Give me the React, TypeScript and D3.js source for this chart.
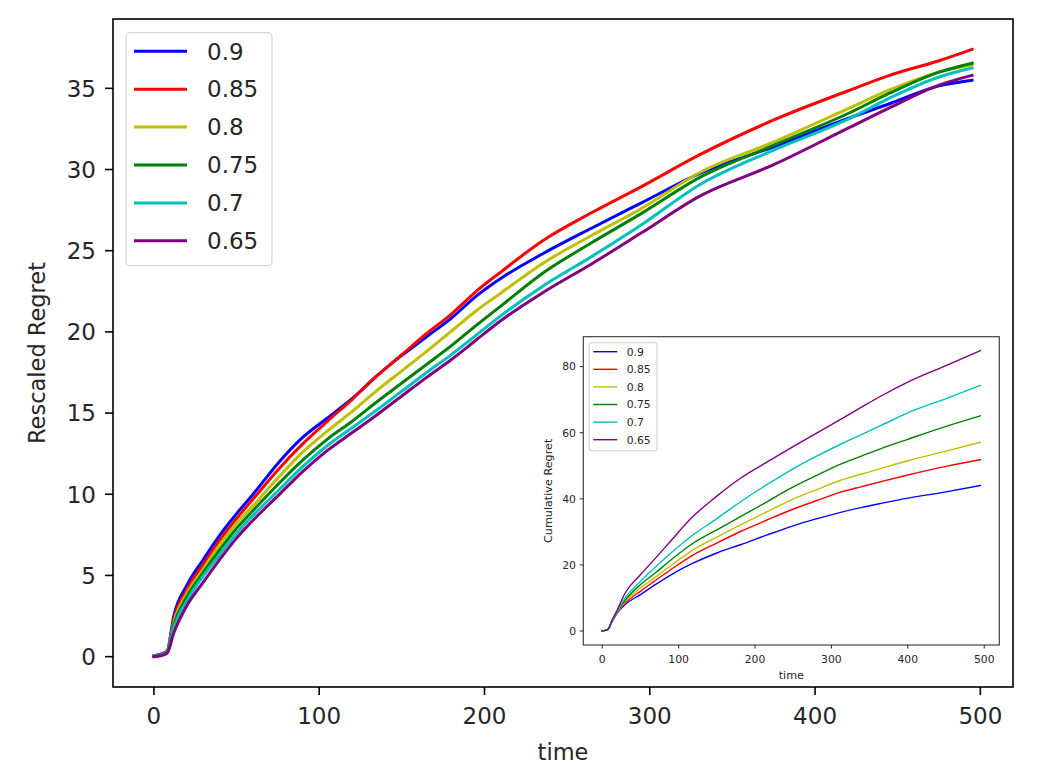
import React, { useEffect, useRef } from 'react';
import * as d3 from 'd3';

const labels = ['0.9', '0.85', '0.8', '0.75', '0.7', '0.65'];
const colors = ['#0000ff', '#ff0000', '#bfbf00', '#008000', '#00bfbf', '#800080'];

// main panel: rescaled regret
const mainTimes = [0, 4, 8, 12, 20, 30, 40, 50, 60, 75, 90, 105, 120, 135, 150, 165, 180, 195, 210, 235, 265, 295, 330, 375, 420, 445, 475, 495];
const rescaled90 = [0.05, 0.15, 0.35, 2.5, 4.4, 6.0, 7.5, 8.8, 10.0, 11.9, 13.5, 14.7, 15.9, 17.3, 18.55, 19.7, 20.85, 22.2, 23.3, 24.8, 26.4, 27.95, 29.75, 31.4, 33.15, 34.05, 35.15, 35.5];
const rescaled85 = [0.03, 0.12, 0.3, 2.3, 4.15, 5.7, 7.2, 8.5, 9.7, 11.5, 13.1, 14.5, 15.85, 17.3, 18.6, 19.9, 21.1, 22.5, 23.7, 25.6, 27.35, 28.95, 30.9, 33.05, 34.85, 35.8, 36.7, 37.4];
const rescaled80 = [0.03, 0.1, 0.3, 2.1, 3.9, 5.4, 6.9, 8.2, 9.3, 11.0, 12.6, 13.9, 15.1, 16.4, 17.6, 18.8, 20.05, 21.3, 22.4, 24.2, 25.95, 27.6, 29.8, 31.7, 33.75, 34.9, 36.0, 36.45];
const rescaled75 = [0.02, 0.1, 0.28, 1.95, 3.7, 5.2, 6.6, 7.9, 9.0, 10.6, 12.1, 13.4, 14.5, 15.7, 16.85, 18.0, 19.15, 20.4, 21.6, 23.6, 25.5, 27.3, 29.5, 31.5, 33.45, 34.7, 36.0, 36.55];
const rescaled70 = [0.02, 0.08, 0.25, 1.75, 3.45, 5.0, 6.3, 7.6, 8.7, 10.2, 11.7, 13.0, 14.1, 15.2, 16.35, 17.5, 18.6, 19.8, 21.0, 22.8, 24.65, 26.6, 29.05, 31.2, 33.1, 34.4, 35.7, 36.25];
const rescaled65 = [0, 0.05, 0.22, 1.45, 3.15, 4.6, 6.0, 7.3, 8.4, 9.9, 11.4, 12.7, 13.8, 14.9, 16.05, 17.2, 18.3, 19.5, 20.7, 22.4, 24.2, 26.1, 28.35, 30.3, 32.55, 33.8, 35.2, 35.8];
const mainSeries = [rescaled90, rescaled85, rescaled80, rescaled75, rescaled70, rescaled65];

// inset panel: cumulative regret
const insetTimes = [0, 4, 8, 12, 20, 30, 50, 68, 90, 116, 150, 181, 215, 247, 280, 312, 340, 365, 400, 450, 495];
const cumulative90 = [0, 0.2, 0.6, 2.5, 5.5, 8, 11, 13.8, 17, 20.2, 23.6, 26.1, 29, 31.6, 33.9, 35.9, 37.4, 38.6, 40.2, 42.1, 44];
const cumulative85 = [0, 0.2, 0.6, 2.5, 5.6, 8.4, 12, 15, 18.6, 22.6, 26.6, 30.1, 33.5, 36.6, 39.4, 42, 43.7, 45.2, 47.2, 49.8, 51.8];
const cumulative80 = [0, 0.2, 0.6, 2.6, 5.7, 8.8, 13, 16, 19.8, 24.1, 28.4, 32.1, 36, 39.6, 42.7, 45.6, 47.5, 49.2, 51.5, 54.4, 57.1];
const cumulative75 = [0, 0.2, 0.6, 2.6, 5.9, 9.3, 14, 17.3, 21.5, 26.1, 30.6, 34.6, 39, 43.2, 47, 50.5, 53, 55.2, 58, 61.9, 65.1];
const cumulative70 = [0, 0.2, 0.6, 2.7, 6.1, 10, 15, 19, 23.6, 28.6, 34, 39.1, 44.2, 48.7, 52.8, 56.5, 59.5, 62.2, 66, 70.3, 74.3];
const cumulative65 = [0, 0.2, 0.6, 2.8, 6.5, 11.5, 17, 21.6, 27.3, 34, 40.8, 46.2, 51, 55.4, 59.8, 64.0, 67.8, 71.1, 75.3, 80.3, 84.8];
const insetSeries = [cumulative90, cumulative85, cumulative80, cumulative75, cumulative70, cumulative65];

const xTicks = [0, 100, 200, 300, 400, 500];
const mainYTicks = [0, 5, 10, 15, 20, 25, 30, 35];
const insetYTicks = [0, 20, 40, 60, 80];

const FONT = '"DejaVu Sans", Verdana, sans-serif';

interface PanelConfig {
  left: number; right: number; top: number; bottom: number;
  times: number[]; series: number[][]; yTicks: number[];
  lineWidth: number; spineWidth: number; spineColor: string;
  tickLen: number; tickFont: number; labelFont: number; legendFont: number;
  yTickX: number; xTickY: number; yLabelX: number; xLabelY: number;
  yLabel: string;
  legend: { x: number; y: number; w: number; h: number; r: number; row0: number; step: number; l0: number; l1: number; tx: number; lw: number };
}

function drawPanel(svg: d3.Selection<SVGSVGElement, unknown, null, undefined>, c: PanelConfig) {
  const tMax = d3.max(c.times)!;
  const yMax = d3.max(c.series.flat())!;
  const x = d3.scaleLinear().domain([-0.05 * tMax, tMax * 1.05]).range([c.left, c.right]);
  const y = d3.scaleLinear().domain([-0.05 * yMax, yMax * 1.05]).range([c.bottom, c.top]);

  const g = svg.append('g');
  g.append('rect')
    .attr('x', c.left).attr('y', c.top)
    .attr('width', c.right - c.left).attr('height', c.bottom - c.top)
    .attr('fill', 'white');

  const line = d3.line<number>()
    .x((_, i) => x(c.times[i]))
    .y(d => y(d))
    .curve(d3.curveMonotoneX);

  c.series.forEach((s, i) => {
    g.append('path')
      .attr('d', line(s))
      .attr('fill', 'none')
      .attr('stroke', colors[i])
      .attr('stroke-width', c.lineWidth)
      .attr('stroke-linejoin', 'round')
      .attr('stroke-linecap', 'square');
  });

  // ticks
  xTicks.forEach(t => {
    g.append('line')
      .attr('x1', x(t)).attr('x2', x(t))
      .attr('y1', c.bottom).attr('y2', c.bottom + c.tickLen)
      .attr('stroke', c.spineColor).attr('stroke-width', c.spineWidth);
    g.append('text')
      .attr('x', x(t)).attr('y', c.xTickY)
      .attr('text-anchor', 'middle')
      .style('font-size', `${c.tickFont}px`)
      .attr('fill', '#262626')
      .text(t);
  });
  c.yTicks.forEach(t => {
    g.append('line')
      .attr('x1', c.left - c.tickLen).attr('x2', c.left)
      .attr('y1', y(t)).attr('y2', y(t))
      .attr('stroke', c.spineColor).attr('stroke-width', c.spineWidth);
    g.append('text')
      .attr('x', c.yTickX).attr('y', y(t))
      .attr('dy', '0.36em')
      .attr('text-anchor', 'end')
      .style('font-size', `${c.tickFont}px`)
      .attr('fill', '#262626')
      .text(t);
  });

  g.append('rect')
    .attr('x', c.left).attr('y', c.top)
    .attr('width', c.right - c.left).attr('height', c.bottom - c.top)
    .attr('fill', 'none')
    .attr('stroke', c.spineColor)
    .attr('stroke-width', c.spineWidth);

  // axis labels
  g.append('text')
    .attr('x', (c.left + c.right) / 2).attr('y', c.xLabelY)
    .attr('text-anchor', 'middle')
    .style('font-size', `${c.labelFont}px`)
    .attr('fill', '#262626')
    .text('time');
  g.append('text')
    .attr('transform', `translate(${c.yLabelX},${(c.top + c.bottom) / 2}) rotate(-90)`)
    .attr('text-anchor', 'middle')
    .style('font-size', `${c.labelFont}px`)
    .attr('fill', '#262626')
    .text(c.yLabel);

  // legend
  const L = c.legend;
  g.append('rect')
    .attr('x', L.x).attr('y', L.y).attr('width', L.w).attr('height', L.h)
    .attr('rx', L.r)
    .attr('fill', 'white').attr('fill-opacity', 0.8)
    .attr('stroke', '#d6d6d6').attr('stroke-width', 1.2);
  labels.forEach((lab, i) => {
    const ry = L.row0 + i * L.step;
    g.append('line')
      .attr('x1', L.l0).attr('x2', L.l1).attr('y1', ry).attr('y2', ry)
      .attr('stroke', colors[i]).attr('stroke-width', L.lw);
    g.append('text')
      .attr('x', L.tx).attr('y', ry).attr('dy', '0.36em')
      .style('font-size', `${c.legendFont}px`)
      .attr('fill', '#262626')
      .text(lab);
  });
}

export default function App() {
  const svgRef = useRef<SVGSVGElement>(null);

  useEffect(() => {
    if (!svgRef.current) return;
    const svg = d3.select(svgRef.current);
    svg.selectAll('*').remove();
    svg.style('font-family', FONT);

    drawPanel(svg, {
      left: 113, right: 1013, top: 19, bottom: 687,
      times: mainTimes, series: mainSeries, yTicks: mainYTicks,
      lineWidth: 3, spineWidth: 1.6, spineColor: '#000',
      tickLen: 8, tickFont: 23, labelFont: 22.5, legendFont: 23,
      yTickX: 96, xTickY: 724, yLabelX: 45, xLabelY: 760,
      yLabel: 'Rescaled Regret',
      legend: { x: 126, y: 32.7, w: 146, h: 233, r: 4, row0: 51.3, step: 37.9, l0: 134, l1: 187, tx: 207, lw: 3 },
    });

    drawPanel(svg, {
      left: 583.3, right: 999.3, top: 336.7, bottom: 645,
      times: insetTimes, series: insetSeries, yTicks: insetYTicks,
      lineWidth: 1.4, spineWidth: 1.1, spineColor: '#333',
      tickLen: 3.5, tickFont: 10.8, labelFont: 11.2, legendFont: 10.8,
      yTickX: 576, xTickY: 663.3, yLabelX: 551.7, xLabelY: 679,
      yLabel: 'Cumulative Regret',
      legend: { x: 589.3, y: 342.7, w: 67.7, h: 108, r: 2, row0: 351.7, step: 17.6, l0: 593.3, l1: 617.3, tx: 626.7, lw: 1.4 },
    });
  }, []);

  return (
    <svg
      ref={svgRef}
      width={1042}
      height={771}
      style={{ position: 'absolute', left: 0, top: 0, background: 'white' }}
    />
  );
}
